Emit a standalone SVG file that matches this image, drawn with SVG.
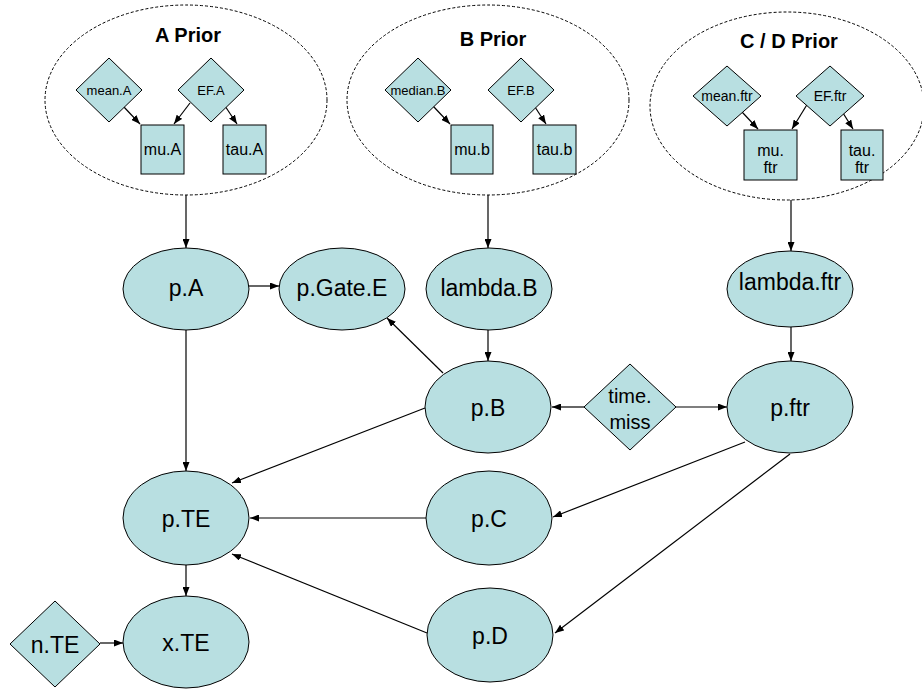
<svg xmlns="http://www.w3.org/2000/svg" width="922" height="689" viewBox="0 0 922 689">
<style>
.n{fill:#b8dfe1;stroke:#000;stroke-width:1}
.g{fill:none;stroke:#000;stroke-width:1;stroke-dasharray:3 2}
.t{font-family:"Liberation Sans",Arial,sans-serif;text-anchor:middle;fill:#000}
.big{font-size:23px}
.mid{font-size:16px}
.sm{font-size:13px}
.sm2{font-size:14px}
.hd{font-size:20px;font-weight:bold}
.c line{stroke:#000;stroke-width:1.2;marker-end:url(#ah)}
</style>
<defs>
<marker id="ah" markerUnits="userSpaceOnUse" markerWidth="9" markerHeight="7" refX="9" refY="3.5" orient="auto">
<path d="M0,0 L9,3.5 L0,7 z" fill="#000"/>
</marker>
</defs>
<rect width="922" height="689" fill="#fff"/>

<g id="priorA">
<ellipse class="g" cx="186" cy="100" rx="141" ry="95"/>
<text class="t hd" x="188" y="42">A Prior</text>
</g>
<g id="priorB">
<ellipse class="g" cx="488" cy="100" rx="141" ry="95"/>
<text class="t hd" x="493" y="46">B Prior</text>
</g>
<g id="priorCD">
<ellipse class="g" cx="787" cy="106" rx="137" ry="94"/>
<text class="t hd" x="789" y="48">C / D Prior</text>
</g>

<g class="c" id="connectors">
<line x1="123" y1="106" x2="140" y2="124"/>
<line x1="190" y1="103" x2="174" y2="124"/>
<line x1="225" y1="106" x2="237" y2="124"/>
<line x1="433" y1="106" x2="450" y2="124"/>
<line x1="535" y1="107" x2="546" y2="124"/>
<line x1="742" y1="112" x2="758" y2="129"/>
<line x1="808" y1="103" x2="792" y2="129"/>
<line x1="843" y1="113" x2="853" y2="129"/>
<line x1="186" y1="195" x2="186" y2="248"/>
<line x1="488" y1="195" x2="488" y2="248"/>
<line x1="791" y1="200" x2="791" y2="251"/>
<line x1="249" y1="286" x2="279" y2="286"/>
<line x1="488" y1="330" x2="488" y2="361"/>
<line x1="791" y1="327" x2="791" y2="361"/>
<line x1="443" y1="373" x2="387" y2="318"/>
<line x1="584" y1="407" x2="552" y2="407"/>
<line x1="675" y1="407" x2="727" y2="407"/>
<line x1="186" y1="330" x2="186" y2="471"/>
<line x1="425" y1="408" x2="232" y2="483"/>
<line x1="426" y1="518" x2="250" y2="518"/>
<line x1="427" y1="633" x2="232" y2="554"/>
<line x1="745" y1="442" x2="553" y2="517"/>
<line x1="790" y1="454" x2="555" y2="633"/>
<line x1="186" y1="565" x2="186" y2="596"/>
<line x1="100" y1="643" x2="123" y2="643"/>
</g>

<g id="meanA"><polygon class="n" points="109,58 142,90 109,122 76,90"/><text class="t sm" x="109" y="95">mean.A</text></g>
<g id="EFA"><polygon class="n" points="211,58 244,90 211,122 178,90"/><text class="t sm" x="211" y="95">EF.A</text></g>
<g id="muA"><rect class="n" x="141" y="125" width="43" height="49"/><text class="t mid" x="162.5" y="155">mu.A</text></g>
<g id="tauA"><rect class="n" x="223" y="125" width="43" height="49"/><text class="t mid" x="244.5" y="155">tau.A</text></g>

<g id="medianB"><polygon class="n" points="418,58 451,90 418,122 385,90"/><text class="t sm" x="418" y="95">median.B</text></g>
<g id="EFB"><polygon class="n" points="521,58 554,90 521,122 488,90"/><text class="t sm" x="521" y="95">EF.B</text></g>
<g id="mub"><rect class="n" x="451" y="125" width="42" height="49"/><text class="t mid" x="472" y="155">mu.b</text></g>
<g id="taub"><rect class="n" x="533" y="125" width="43" height="49"/><text class="t mid" x="554.5" y="155">tau.b</text></g>

<g id="meanftr"><polygon class="n" points="727,66 761,96 727,126 693,96"/><text class="t sm2" x="727" y="101">mean.ftr</text></g>
<g id="EFftr"><polygon class="n" points="830,66 864,96 830,126 796,96"/><text class="t sm2" x="830" y="101">EF.ftr</text></g>
<g id="muftr"><rect class="n" x="744" y="130" width="53" height="50"/><text class="t mid" x="770.5" y="156">mu.</text><text class="t mid" x="770.5" y="173">ftr</text></g>
<g id="tauftr"><rect class="n" x="841" y="130" width="42" height="50"/><text class="t mid" x="862" y="156">tau.</text><text class="t mid" x="862" y="173">ftr</text></g>

<g id="pA"><ellipse class="n" cx="186" cy="289" rx="63" ry="41"/><text class="t big" x="186" y="296">p.A</text></g>
<g id="pGateE"><ellipse class="n" cx="342" cy="289" rx="63" ry="41"/><text class="t big" x="342" y="296">p.Gate.E</text></g>
<g id="lambdaB"><ellipse class="n" cx="489" cy="289" rx="63" ry="41"/><text class="t big" x="489" y="296">lambda.B</text></g>
<g id="lambdaftr"><ellipse class="n" cx="790" cy="289" rx="63" ry="38"/><text class="t big" x="790" y="290">lambda.ftr</text></g>
<g id="pB"><ellipse class="n" cx="488" cy="407" rx="63" ry="46"/><text class="t big" x="488" y="416">p.B</text></g>
<g id="timemiss"><polygon class="n" points="630,364 676,407 630,450 584,407"/><text class="t big" x="630" y="403" style="font-size:20px">time.</text><text class="t big" x="630" y="429" style="font-size:20px">miss</text></g>
<g id="pftr"><ellipse class="n" cx="790" cy="407" rx="63" ry="46"/><text class="t big" x="790" y="416">p.ftr</text></g>
<g id="pTE"><ellipse class="n" cx="186" cy="518" rx="63" ry="47"/><text class="t big" x="186" y="527">p.TE</text></g>
<g id="pC"><ellipse class="n" cx="489" cy="518" rx="63" ry="47"/><text class="t big" x="489" y="527">p.C</text></g>
<g id="pD"><ellipse class="n" cx="490" cy="635" rx="63" ry="47"/><text class="t big" x="490" y="644">p.D</text></g>
<g id="xTE"><ellipse class="n" cx="186" cy="642" rx="63" ry="46"/><text class="t big" x="186" y="651">x.TE</text></g>
<g id="nTE"><polygon class="n" points="55,601 100,644 55,687 10,644"/><text class="t big" x="55" y="653">n.TE</text></g>
</svg>
